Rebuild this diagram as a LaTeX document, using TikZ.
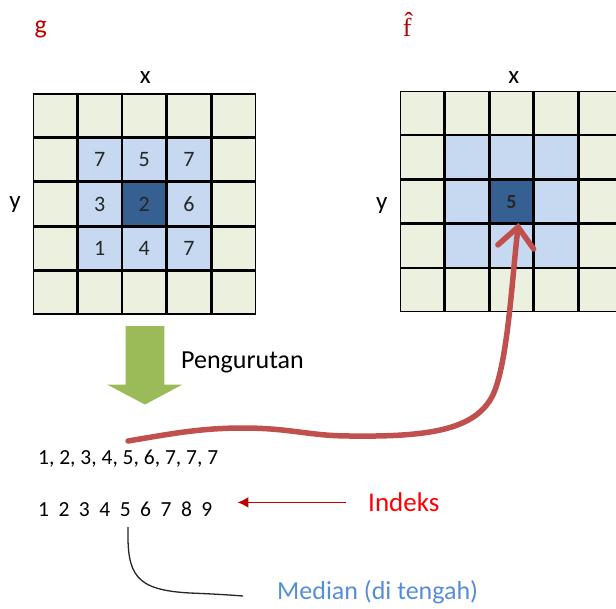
\documentclass[tikz,border=0pt]{standalone}
\usepackage{fontspec}
\setmainfont{Carlito}
\newfontfamily\serifm{Liberation Serif}
\usetikzlibrary{matrix,arrows.meta}
\definecolor{cgreen}{HTML}{EBF1DE}
\definecolor{cblue}{HTML}{C6D9F1}
\definecolor{cdark}{HTML}{366092}
\definecolor{arrowgreen}{HTML}{9BBB59}
\definecolor{curvered}{HTML}{C0504D}
\definecolor{darkred}{HTML}{C00000}
\definecolor{brightred}{HTML}{FF0000}
\definecolor{medblue}{HTML}{558ED5}
\newcommand\idxgap{\hspace{9.5pt}}
\tikzset{
  cell/.style={draw=black, line width=1.4pt, fill=cgreen, minimum width=43.3pt,
    minimum height=42.9pt, inner sep=0pt, outer sep=0pt, anchor=center,
    text height=14pt, text depth=0pt,
    font=\fontsize{22}{22}\selectfont, text=black!85},
  lb/.style={fill=cblue},
  db/.style={fill=cdark},
  grid/.style={matrix of nodes, nodes in empty cells, nodes={cell},
    column sep=0pt, row sep=0pt, inner sep=0pt, outer sep=0pt},
  lbl/.style={inner sep=0pt, anchor=base, font=\fontsize{25}{25}\selectfont},
  txt/.style={inner sep=0pt, anchor=base west, font=\fontsize{26}{26}\selectfont},
  seqtxt/.style={inner sep=0pt, anchor=base west, font=\fontsize{21.5}{21.5}\selectfont},
  bigcurve/.style={draw=curvered, line width=5.5pt, line cap=round,
    -{Straight Barb[length=20pt,width=36pt,line cap=round]}},
  idxarr/.style={draw=darkred, line width=1.8pt, -{Latex[length=11pt,width=11pt]}},
  medline/.style={draw=black!85, line width=1.3pt},
}
\begin{document}
\begin{tikzpicture}[x=1pt,y=-1pt]
\useasboundingbox (0,0) rectangle (616,608);

% titles and axis labels
\node[lbl, text=darkred, font=\fontsize{26}{26}\selectfont] (gl) at (40.8,33.3) {g};
\node[lbl, text=darkred, font=\fontsize{26}{26}\serifm] (fl) at (407.2,36.5) {\^{f}};
\node[lbl] (gx) at (145.3,83.3) {x};
\node[lbl] (gy) at (15,208) {y};
\node[lbl] (fx) at (513.8,83.3) {x};
\node[lbl] (fy) at (381.7,209) {y};

% left grid g
\matrix (G) [grid] at (144.3,204) {
  & & & & \\
  & |[lb]|7 & |[lb]|5 & |[lb]|7 & \\
  & |[lb]|3 & |[db]|2 & |[lb]|6 & \\
  & |[lb]|1 & |[lb]|4 & |[lb]|7 & \\
  & & & & \\
};

% right grid f-hat
\matrix (F) [grid] at (511.5,201.5) {
  & & & & \\
  & |[lb]| & |[lb]| & |[lb]| & \\
  & |[lb]| & |[db,font=\fontsize{20}{20}\selectfont\bfseries]|5 & |[lb]| & \\
  & |[lb]| & |[lb]| & |[lb]| & \\
  & & & & \\
};

% green block arrow
\fill[arrowgreen] (125.5,326) -- (164.3,326) -- (164.3,384.5) -- (182.5,384.5)
  -- (145,404.5) -- (107,384.5) -- (125.5,384.5) -- cycle;
\node[txt] (peng) at (181,368.3) {Pengurutan};

% sorted sequence and index row
\node[seqtxt] (seq) at (38,464) {1, 2, 3, 4, 5, 6, 7, 7, 7};
\node[seqtxt] (idx) at (38,516) {1\idxgap 2\idxgap 3\idxgap 4\idxgap 5\idxgap 6\idxgap 7\idxgap 8\idxgap 9};
\node[txt, text=brightred, font=\fontsize{27}{27}\selectfont] (ind) at (368,511.7) {Indeks};
\node[txt, text=medblue] (med) at (277,599) {Median (di tengah)};

% connectors
\coordinate (cs) at (128,441);
\draw[bigcurve] (cs) .. controls (170,434) and (200,428) .. (243,428)
  .. controls (290,428) and (310,436) .. (350,436)
  .. controls (430,437) and (480,430) .. (495,390)
  .. controls (508,355) and (512,280) .. ([xshift=7pt]F-3-3.south);

\draw[idxarr] ([xshift=-22pt]ind.west) -- ([xshift=25pt]idx.east |- ind.west);

\coordinate (m5) at (128,527);
\coordinate (me) at (243,596);
\draw[medline] (m5) .. controls (127,575) and (135,590) .. (190,593)
  .. controls (215,594) and (230,595) .. (me);
\end{tikzpicture}
\end{document}
